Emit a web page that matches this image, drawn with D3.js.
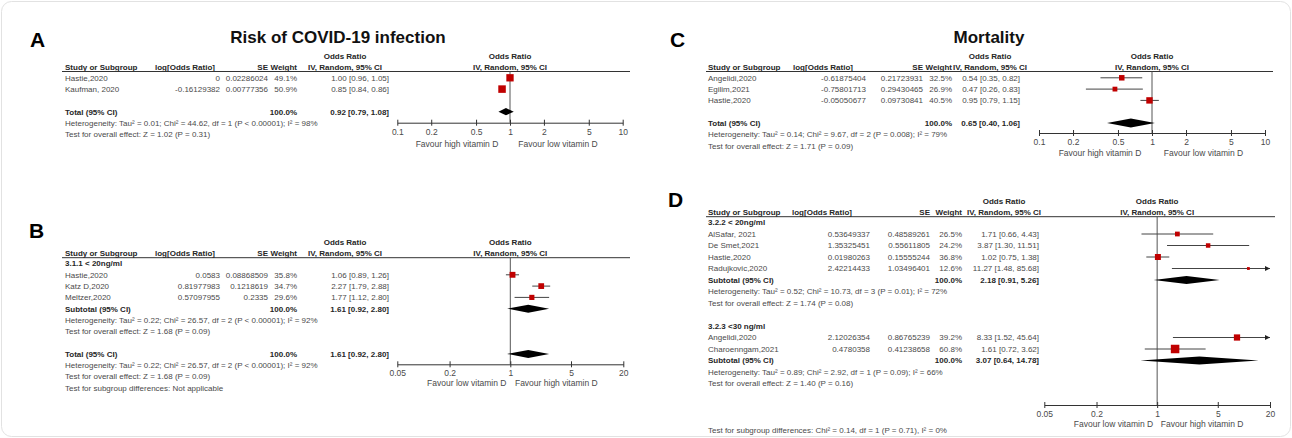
<!DOCTYPE html>
<html><head><meta charset="utf-8">
<script src="https://cdn.jsdelivr.net/npm/d3@7"></script>
<style>
html,body{margin:0;padding:0;background:#fff;}
svg{display:block;}
text{font-family:"Liberation Sans",Arial,Helvetica,sans-serif;}
</style></head><body>
<svg id="chart" width="1292" height="438"></svg>
<script>
// ---------------- DATA ----------------
const aStudies = [
  {study:"Hastie,2020",   logOR:"0",           se:"0.02286024", weight:49.1, or:1.00, lo:0.96, hi:1.05},
  {study:"Kaufman, 2020", logOR:"-0.16129382", se:"0.00777356", weight:50.9, or:0.85, lo:0.84, hi:0.86}
];
const aTotal = {label:"Total (95% CI)", weight:100.0, or:0.92, lo:0.79, hi:1.08};
const aNotes = ["Heterogeneity: Tau\u00b2 = 0.01; Chi\u00b2 = 44.62, df = 1 (P < 0.00001); I\u00b2 = 98%",
                "Test for overall effect: Z = 1.02 (P = 0.31)"];
const aTicks = [0.1, 0.2, 0.5, 1, 2, 5, 10];

const bGroup = "3.1.1 < 20ng/ml";
const bStudies = [
  {study:"Hastie,2020",  logOR:"0.0583",     se:"0.08868509", weight:35.8, or:1.06, lo:0.89, hi:1.26},
  {study:"Katz D,2020",  logOR:"0.81977983", se:"0.1218619",  weight:34.7, or:2.27, lo:1.79, hi:2.88},
  {study:"Meltzer,2020", logOR:"0.57097955", se:"0.2335",     weight:29.6, or:1.77, lo:1.12, hi:2.80}
];
const bSubtotal = {label:"Subtotal (95% CI)", weight:100.0, or:1.61, lo:0.92, hi:2.80};
const bSubNotes = ["Heterogeneity: Tau\u00b2 = 0.22; Chi\u00b2 = 26.57, df = 2 (P < 0.00001); I\u00b2 = 92%",
                   "Test for overall effect: Z = 1.68 (P = 0.09)"];
const bTotal = {label:"Total (95% CI)", weight:100.0, or:1.61, lo:0.92, hi:2.80};
const bNotes = ["Heterogeneity: Tau\u00b2 = 0.22; Chi\u00b2 = 26.57, df = 2 (P < 0.00001); I\u00b2 = 92%",
                "Test for overall effect: Z = 1.68 (P = 0.09)",
                "Test for subgroup differences: Not applicable"];
const bTicks = [0.05, 0.2, 1, 5, 20];

const cStudies = [
  {study:"Angelidi,2020", logOR:"-0.61875404", se:"0.21723931", weight:32.5, or:0.54, lo:0.35, hi:0.82},
  {study:"Egilim,2021",   logOR:"-0.75801713", se:"0.29430465", weight:26.9, or:0.47, lo:0.26, hi:0.83},
  {study:"Hastie,2020",   logOR:"-0.05050677", se:"0.09730841", weight:40.5, or:0.95, lo:0.79, hi:1.15}
];
const cTotal = {label:"Total (95% CI)", weight:100.0, or:0.65, lo:0.40, hi:1.06};
const cNotes = ["Heterogeneity: Tau\u00b2 = 0.14; Chi\u00b2 = 9.67, df = 2 (P = 0.008); I\u00b2 = 79%",
                "Test for overall effect: Z = 1.71 (P = 0.09)"];
const cTicks = [0.1, 0.2, 0.5, 1, 2, 5, 10];

const dGroup1 = "3.2.2 < 20ng/ml";
const dStudies1 = [
  {study:"AlSafar, 2021",   logOR:"0.53649337", se:"0.48589261", weight:26.5, or:1.71,  lo:0.66, hi:4.43},
  {study:"De Smet,2021",    logOR:"1.35325451", se:"0.55611805", weight:24.2, or:3.87,  lo:1.30, hi:11.51},
  {study:"Hastie,2020",     logOR:"0.01980263", se:"0.15555244", weight:36.8, or:1.02,  lo:0.75, hi:1.38},
  {study:"Radujkovic,2020", logOR:"2.42214433", se:"1.03496401", weight:12.6, or:11.27, lo:1.48, hi:85.68}
];
const dSubtotal1 = {label:"Subtotal (95% CI)", weight:100.0, or:2.18, lo:0.91, hi:5.26};
const dNotes1 = ["Heterogeneity: Tau\u00b2 = 0.52; Chi\u00b2 = 10.73, df = 3 (P = 0.01); I\u00b2 = 72%",
                 "Test for overall effect: Z = 1.74 (P = 0.08)"];
const dGroup2 = "3.2.3 <30 ng/ml";
const dStudies2 = [
  {study:"Angelidi,2020",    logOR:"2.12026354", se:"0.86765239", weight:39.2, or:8.33, lo:1.52, hi:45.64},
  {study:"Charoenngam,2021", logOR:"0.4780358",  se:"0.41238658", weight:60.8, or:1.61, lo:0.72, hi:3.62}
];
const dSubtotal2 = {label:"Subtotal (95% CI)", weight:100.0, or:3.07, lo:0.64, hi:14.78};
const dNotes2 = ["Heterogeneity: Tau\u00b2 = 0.89; Chi\u00b2 = 2.92, df = 1 (P = 0.09); I\u00b2 = 66%",
                 "Test for overall effect: Z = 1.40 (P = 0.16)"];
const dSubgroupTest = "Test for subgroup differences: Chi\u00b2 = 0.14, df = 1 (P = 0.71), I\u00b2 = 0%";
const dTicks = [0.05, 0.2, 1, 5, 20];

// ---------------- DRAW ----------------
const svg = d3.select('#chart');
const FONT = '"Liberation Sans", Arial, Helvetica, sans-serif';
const TXT = '#4a4a4a', BOLD = '#262626';
const RED = '#c00000';

svg.append('rect').attr('x',1.5).attr('y',1.5).attr('width',1289).attr('height',435)
  .attr('rx',10).attr('fill','none').attr('stroke','#e2e2e2');

const fmtCI = d => d.or.toFixed(2)+' ['+d.lo.toFixed(2)+', '+d.hi.toFixed(2)+']';
const sqSize = d3.scalePow().exponent(0.7).domain([0,100]).range([0, 0.48*Math.pow(100,0.7)]);

const G = t => ({type:'group', label:t});
const S = d => Object.assign({type:'study'}, d);
const M = d => Object.assign({type:'summary'}, d);
const N = t => ({type:'note', label:t});
const B = () => ({type:'blank'});

function drawPanel(p){
  const g = svg.append('g');
  const x = d3.scaleLog().domain(p.domain).range(p.range);
  const c = p.cols, L = p.lineY;
  const txt = (t, xx, yy, anchor, bold, size) => g.append('text')
      .attr('x',xx).attr('y',yy).attr('text-anchor',anchor||'start')
      .attr('font-size',size||8).attr('font-weight',bold?'bold':'normal')
      .attr('fill',bold?BOLD:TXT).text(t);

  g.append('text').attr('x',p.letter[1]).attr('y',p.letter[2]).attr('font-size',21)
    .attr('font-weight','bold').attr('fill','#000').text(p.letter[0]);
  if (p.title) g.append('text').attr('x',p.title[1]).attr('y',p.title[2]).attr('text-anchor','middle')
    .attr('font-size',17).attr('font-weight','bold').attr('fill','#111').text(p.title[0]);

  // headers
  txt('Odds Ratio', c.or, L-12.6, 'middle', true);
  txt('Odds Ratio', x(1), L-12.6, 'middle', true);
  txt('Study or Subgroup', c.study, L-1.3, 'start', true);
  txt('log[Odds Ratio]', c.logH, L-1.3, 'start', true);
  txt('SE', c.se, L-1.3, 'end', true);
  txt('Weight', c.w, L-1.3, 'end', true);
  txt('IV, Random, 95% CI', c.or, L-1.3, 'middle', true);
  txt('IV, Random, 95% CI', x(1), L-1.3, 'middle', true);
  g.append('line').attr('x1',p.lineX[0]).attr('x2',p.lineX[1]).attr('y1',L).attr('y2',L)
    .attr('stroke','#333').attr('stroke-width',1);

  // null line
  g.append('line').attr('x1',x(1)).attr('x2',x(1)).attr('y1',L).attr('y2',p.axisY)
    .attr('stroke','#555').attr('stroke-width',1);

  // axis
  const ax = g.append('g').attr('transform',`translate(0,${p.axisY})`)
    .call(d3.axisBottom(x).tickValues(p.ticks).tickFormat(d=>String(d))
      .tickSizeInner(3).tickSizeOuter(0).tickPadding(3));
  ax.select('.domain').attr('stroke','#333');
  ax.selectAll('.tick line').attr('y1',-3).attr('y2',3).attr('stroke','#333');
  ax.selectAll('.tick text').attr('font-size',8.5).attr('fill',TXT).attr('font-family',FONT);

  // favour labels
  txt(p.favour[0], x(1)+p.favOff[0], p.favY+3, 'middle', false, 8.5);
  txt(p.favour[1], x(1)+p.favOff[1], p.favY+3, 'middle', false, 8.5);

  const [dmin, dmax] = p.domain;
  p.rows.forEach((r, i) => {
    const y = p.row0 + i*p.step, yb = y + 2.9;
    if (r.type === 'group') txt(r.label, c.study, yb, 'start', true);
    else if (r.type === 'note') txt(r.label, c.study, yb, 'start', false);
    else if (r.type === 'study') {
      txt(r.study, c.study, yb);
      txt(r.logOR, c.log, yb, 'end');
      txt(r.se, c.se, yb, 'end');
      txt(r.weight.toFixed(1)+'%', c.w, yb, 'end');
      txt(fmtCI(r), c.ci, yb, 'end');
      const x1 = x(Math.max(r.lo, dmin)), x2 = x(Math.min(r.hi, dmax));
      g.append('line').attr('x1',x1).attr('x2',x2).attr('y1',y).attr('y2',y)
        .attr('stroke','#444').attr('stroke-width',1);
      if (r.hi > dmax) g.append('path')
        .attr('d',`M${x2-5},${y-2.5}L${x2},${y}L${x2-5},${y+2.5}Z`).attr('fill','#222');
      if (r.lo < dmin) g.append('path')
        .attr('d',`M${x1+5},${y-2.5}L${x1},${y}L${x1+5},${y+2.5}Z`).attr('fill','#222');
      const s = sqSize(r.weight);
      g.append('rect').attr('x',x(r.or)-s/2).attr('y',y-s/2).attr('width',s).attr('height',s)
        .attr('fill',RED);
    } else if (r.type === 'summary') {
      txt(r.label, c.study, yb, 'start', true);
      txt(r.weight.toFixed(1)+'%', c.w, yb, 'end', true);
      txt(fmtCI(r), c.ci, yb, 'end', true);
      const h = p.diamondH;
      g.append('path')
        .attr('d',`M${x(r.lo)},${y}L${x(r.or)},${y-h}L${x(r.hi)},${y}L${x(r.or)},${y+h}Z`)
        .attr('fill','#000');
    }
  });
  if (p.extra) txt(p.extra[0], c.study, p.extra[1]+2.9);
}

const colsAB = {study:65, logH:155, log:220, se:268, w:297, ci:389, or:345};

drawPanel({
  letter:['A',30,47], title:['Risk of COVID-19 infection',338,43],
  domain:[0.1,10], range:[397.3,622.7], ticks:aTicks,
  lineY:71.5, lineX:[62,630], axisY:122.7, row0:77.8, step:11.3, diamondH:3.6,
  cols:colsAB, favour:['Favour high vitamin D','Favour low vitamin D'], favOff:[-53,48], favY:144.3,
  rows:[...aStudies.map(S), B(), M(aTotal), ...aNotes.map(N)]
});

drawPanel({
  letter:['B',29,238],
  domain:[0.05,20], range:[397.3,623.3], ticks:bTicks,
  lineY:257.7, lineX:[62,630], axisY:364.3, row0:263.5, step:11.3, diamondH:4,
  cols:colsAB, favour:['Favour low vitamin D','Favour high vitamin D'], favOff:[-43.5,46], favY:383.3,
  rows:[G(bGroup), ...bStudies.map(S), M(bSubtotal), ...bSubNotes.map(N), B(), M(bTotal), ...bNotes.map(N)]
});

drawPanel({
  letter:['C',670,47], title:['Mortality',989,43],
  domain:[0.1,10], range:[1039,1265], ticks:cTicks,
  lineY:71.5, lineX:[706,1273], axisY:133, row0:77.8, step:11.3, diamondH:4.5,
  cols:{study:708, logH:793, log:866, se:923, w:952, ci:1020, or:990},
  favour:['Favour high vitamin D','Favour low vitamin D'], favOff:[-52,51.5], favY:153.3,
  rows:[...cStudies.map(S), B(), M(cTotal), ...cNotes.map(N)]
});

drawPanel({
  letter:['D',668,207],
  domain:[0.05,20], range:[1044.3,1270], ticks:dTicks,
  lineY:216.7, lineX:[706,1275], axisY:405, row0:222.5, step:11.5, diamondH:4,
  cols:{study:708, logH:792, log:870, se:930, w:962, ci:1039, or:1004},
  favour:['Favour low vitamin D','Favour high vitamin D'], favOff:[-43.7,45], favY:423.5,
  rows:[G(dGroup1), ...dStudies1.map(S), M(dSubtotal1), ...dNotes1.map(N), B(),
        G(dGroup2), ...dStudies2.map(S), M(dSubtotal2), ...dNotes2.map(N)],
  extra:[dSubgroupTest, 430]
});
</script>
</body></html>
